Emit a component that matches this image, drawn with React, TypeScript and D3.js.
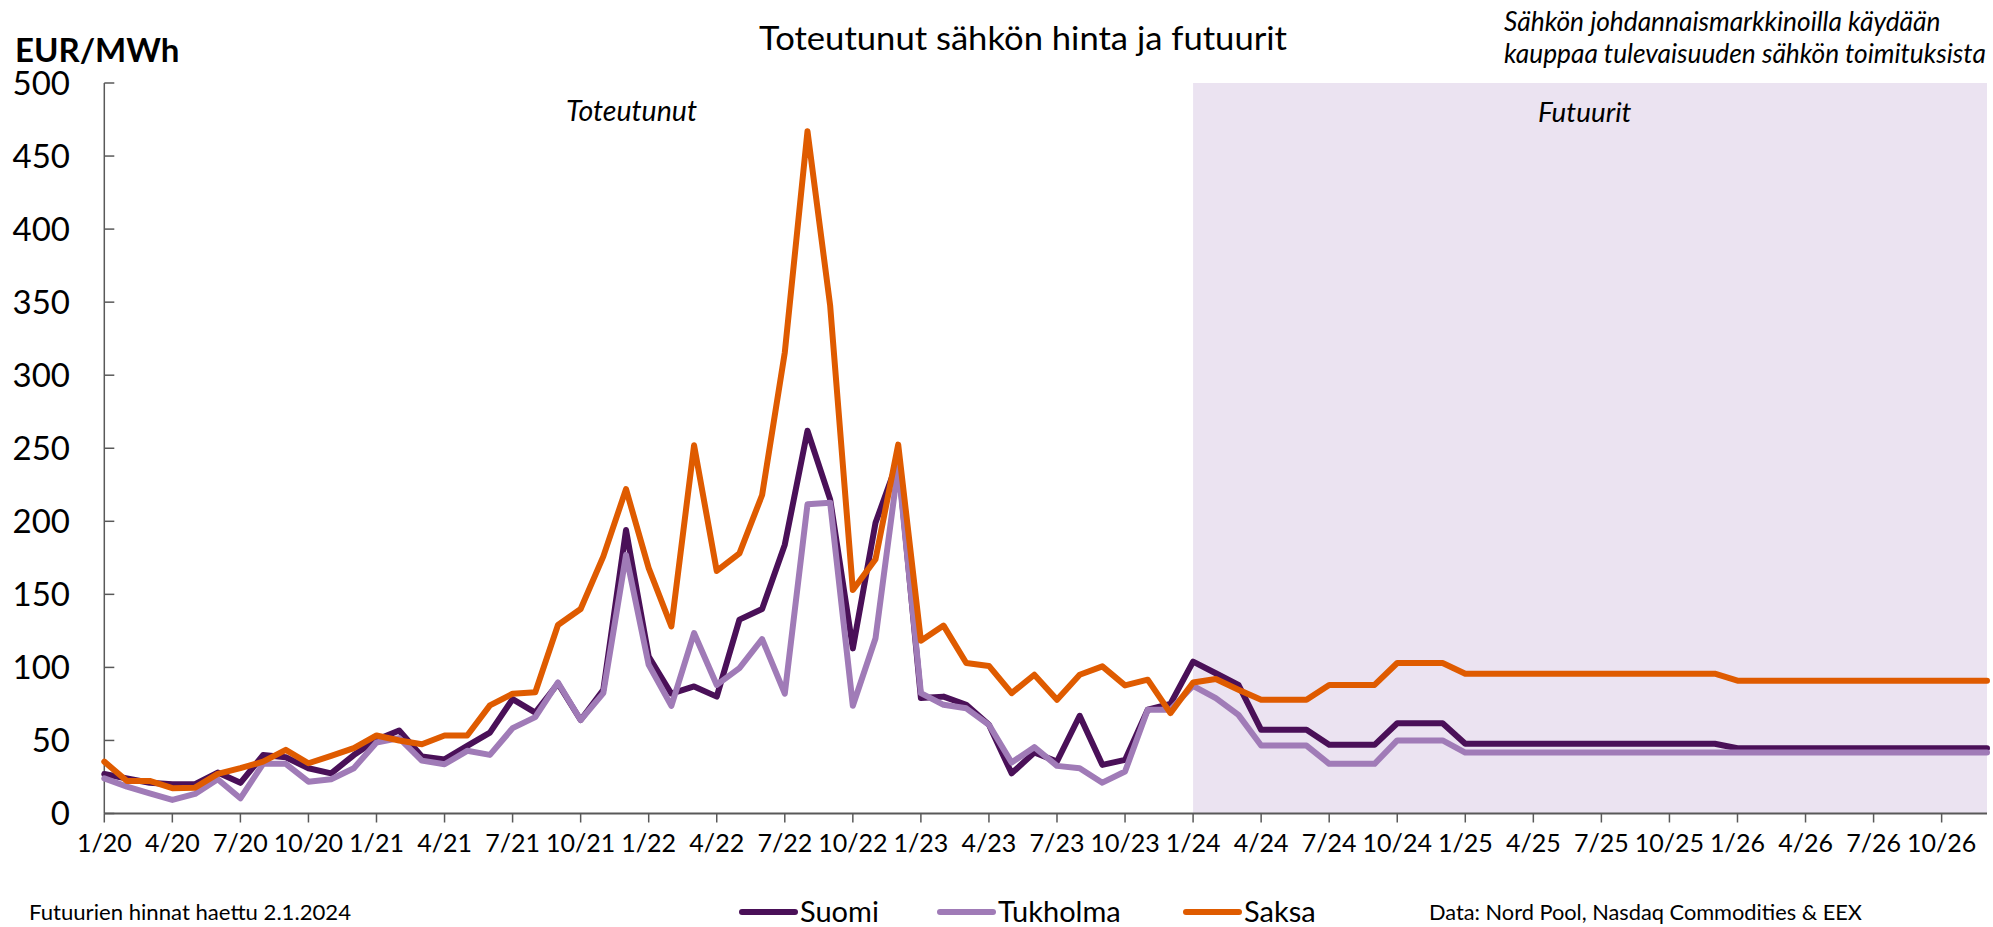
import React from "react";
import * as d3 from "d3";

const tickLabels = [
  "1/20", "4/20", "7/20", "10/20",
  "1/21", "4/21", "7/21", "10/21",
  "1/22", "4/22", "7/22", "10/22",
  "1/23", "4/23", "7/23", "10/23",
  "1/24", "4/24", "7/24", "10/24",
  "1/25", "4/25", "7/25", "10/25",
  "1/26", "4/26", "7/26", "10/26",
];

const yTicks = [0, 50, 100, 150, 200, 250, 300, 350, 400, 450, 500];

// monthly values 1/2020 .. 12/2026 (realized up to 12/2023, futures after)
const suomi = [
  27, 24, 21, 20, 20, 28, 21, 40, 38.5, 31, 27.5, 40,
  50.4, 56.8, 39, 37, 46.3, 55.4, 78.3, 69, 89, 64, 84.7, 194,
  107.5, 82, 87, 80, 132.7, 140, 184, 262, 215, 113, 199, 242,
  79, 80, 74.4, 60.7, 27.5, 41.7, 35.6, 66.9, 33.3, 36.7, 71, 75,
  104, 96, 88, 57.3, 57.3, 57.3, 47, 47, 47, 61.8, 61.8, 61.8,
  47.7, 47.7, 47.7, 47.7, 47.7, 47.7, 47.7, 47.7, 47.7, 47.7, 47.7, 47.7,
  44.7, 44.7, 44.7, 44.7, 44.7, 44.7, 44.7, 44.7, 44.7, 44.7, 44.7, 44.7,
];

const tukholma = [
  24, 18.4, 13.8, 9.3, 13.4, 23.4, 10.4, 34, 34, 21.8, 23.4, 31,
  48.6, 51.6, 36.2, 33.7, 42.9, 40.1, 58.4, 66, 89.7, 64, 82.4, 177,
  101.8, 73.7, 123.5, 88, 99.5, 119.4, 82, 211.6, 212.7, 73.7, 120, 238,
  82.4, 74.4, 72, 60.7, 34.9, 45.4, 32.6, 31, 21.1, 28.7, 71, 71,
  87.4, 79, 67.5, 46.5, 46.5, 46.5, 34, 34, 34, 50, 50, 50,
  41.7, 41.7, 41.7, 41.7, 41.7, 41.7, 41.7, 41.7, 41.7, 41.7, 41.7, 41.7,
  41.7, 41.7, 41.7, 41.7, 41.7, 41.7, 41.7, 41.7, 41.7, 41.7, 41.7, 41.7,
];

const saksa = [
  35.5, 22.3, 22.3, 17.3, 17.7, 27.1, 31, 35.5, 43.6, 34.4, 39.4, 44.7,
  53.4, 50, 47.4, 53.4, 53.4, 74, 82, 83, 129, 140, 176, 222,
  168, 128, 252, 166, 178, 218, 315.6, 467, 347.6, 153, 174, 252.5,
  118.3, 128.6, 103, 101, 82.4, 95, 77.8, 95, 100.7, 87.7, 91.6, 68.7,
  89.7, 92, 84.7, 77.8, 77.8, 77.8, 88, 88, 88, 103, 103, 103,
  95.7, 95.7, 95.7, 95.7, 95.7, 95.7, 95.7, 95.7, 95.7, 95.7, 95.7, 95.7,
  90.9, 90.9, 90.9, 90.9, 90.9, 90.9, 90.9, 90.9, 90.9, 90.9, 90.9, 90.9,
];

const futuresStartIndex = 48; // 1/24
const tickEvery = 3;

const seriesNames = ["Suomi", "Tukholma", "Saksa"];
const seriesColors = ["#4a1058", "#a07bb7", "#df5b00"];
const seriesData = [suomi, tukholma, saksa];

const W = 1993;
const H = 927;
const FONT = "Lato, 'Open Sans', sans-serif";

export default function App() {
  const n = suomi.length;
  const x = d3.scaleLinear().domain([0, n - 1]).range([104.3, 1987]);
  const y = d3.scaleLinear().domain([0, 500]).range([813.5, 83]);
  const line = d3
    .line<number>()
    .x((_, i) => x(i))
    .y((d) => y(d));

  const ticksX = tickLabels.map((lab, k) => ({ lab, i: k * tickEvery }));

  const legendItems = [
    { lx: 742, tx: 800 },
    { lx: 940, tx: 998 },
    { lx: 1186, tx: 1244 },
  ];

  return (
    <svg
      width={W}
      height={H}
      style={{ position: "absolute", left: 0, top: 0, background: "#fff" }}
      fontFamily={FONT}
    >
      {/* futures shading */}
      <rect
        x={x(futuresStartIndex)}
        y={y(500)}
        width={x(n - 1) - x(futuresStartIndex)}
        height={y(0) - y(500)}
        fill="#ebe3f1"
      />

      {/* title */}
      <text x={1023} y={50} textAnchor="middle" fontSize={33} textLength={528} lengthAdjust="spacingAndGlyphs" fill="#000">
        Toteutunut sähkön hinta ja futuurit
      </text>
      <text x={15} y={62} fontSize={33} fontWeight={700} fill="#000">
        EUR/MWh
      </text>
      <text x={1504} y={31} fontSize={26.3} fontStyle="italic" fill="#000">
        Sähkön johdannaismarkkinoilla käydään
      </text>
      <text x={1504} y={63} fontSize={26.3} fontStyle="italic" fill="#000">
        kauppaa tulevaisuuden sähkön toimituksista
      </text>
      <text x={566} y={121} fontSize={28.5} fontStyle="italic" fill="#000">
        Toteutunut
      </text>
      <text x={1538} y={122} fontSize={27.8} fontStyle="italic" fill="#000">
        Futuurit
      </text>

      {/* y axis */}
      <line x1={x(0)} x2={x(0)} y1={y(500)} y2={y(0)} stroke="#595959" strokeWidth={1.5} />
      {yTicks.map((t) => (
        <g key={t}>
          <line x1={x(0)} x2={x(0) + 10} y1={y(t)} y2={y(t)} stroke="#595959" strokeWidth={1.5} />
          <text x={70} y={y(t)} dy="0.36em" textAnchor="end" fontSize={33} fill="#000">
            {t}
          </text>
        </g>
      ))}

      {/* x axis */}
      <line x1={x(0)} x2={x(n - 1)} y1={y(0)} y2={y(0)} stroke="#595959" strokeWidth={2.2} />
      {ticksX.map((t) => (
        <g key={t.lab}>
          <line x1={x(t.i)} x2={x(t.i)} y1={y(0)} y2={y(0) + 9} stroke="#595959" strokeWidth={1.5} />
          <text x={x(t.i)} y={852} textAnchor="middle" fontSize={25} fill="#000">
            {t.lab}
          </text>
        </g>
      ))}

      {/* series */}
      {seriesData.map((d, k) => (
        <path
          key={seriesNames[k]}
          d={line(d) || ""}
          fill="none"
          stroke={seriesColors[k]}
          strokeWidth={6}
          strokeLinejoin="round"
          strokeLinecap="round"
        />
      ))}

      {/* footer */}
      <text x={29} y={920} fontSize={21.5} textLength={322} lengthAdjust="spacingAndGlyphs" fill="#000">
        Futuurien hinnat haettu 2.1.2024
      </text>
      <text x={1429} y={920} fontSize={21.5} textLength={433} lengthAdjust="spacingAndGlyphs" fill="#000">
        Data: Nord Pool, Nasdaq Commodities &amp; EEX
      </text>
      {legendItems.map((it, k) => (
        <g key={seriesNames[k]}>
          <line x1={it.lx} x2={it.lx + 53} y1={912} y2={912} stroke={seriesColors[k]} strokeWidth={6} strokeLinecap="round" />
          <text x={it.tx} y={922} fontSize={29} fill="#000">
            {seriesNames[k]}
          </text>
        </g>
      ))}
    </svg>
  );
}
